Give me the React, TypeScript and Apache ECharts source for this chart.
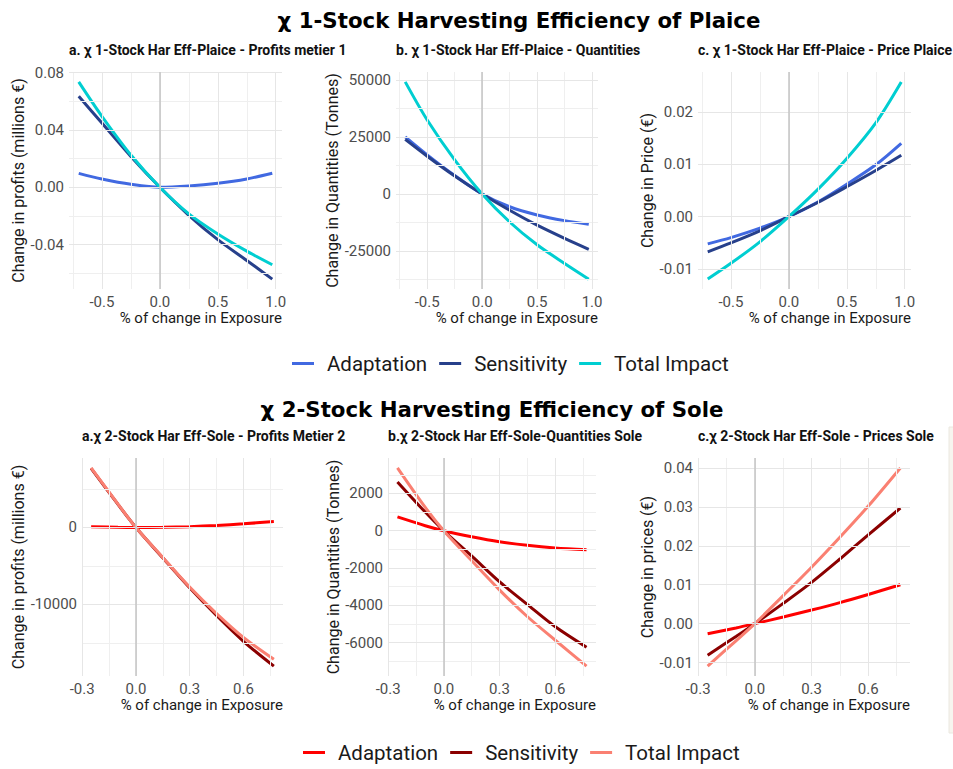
import React, { useEffect, useRef } from "react";
import * as echarts from "echarts";

// Exposure change (x) sampled for each scenario
const PLAICE_X = [-0.7, -0.5, -0.25, 0, 0.25, 0.5, 0.75, 0.97];
const SOLE_X = [-0.25, -0.1, 0, 0.15, 0.3, 0.45, 0.6, 0.77];

const SERIES_NAMES = ["Adaptation", "Sensitivity", "Total Impact"];
const PLAICE_COLORS = ["#4169E1", "#27408B", "#00CED1"];
const SOLE_COLORS = ["#FF0000", "#8B0000", "#FA8072"];

// χ 1 – Plaice: profits metier 1 (millions €)
const plaiceProfitAdaptation = [0.0097, 0.0058, 0.0021, 0, 0.0009, 0.0028, 0.0058, 0.0098];
const plaiceProfitSensitivity = [0.0635, 0.0448, 0.0215, 0, -0.0195, -0.0365, -0.051, -0.064];
const plaiceProfitTotal = [0.0735, 0.0495, 0.0225, 0, -0.0185, -0.0325, -0.0445, -0.054];

// χ 1 – Plaice: quantities (tonnes)
const plaiceQtyAdaptation = [25100, 17200, 8100, 0, -5600, -9200, -11700, -13300];
const plaiceQtySensitivity = [24000, 16600, 7900, 0, -7150, -13700, -19500, -24300];
const plaiceQtyTotal = [49250, 32500, 15000, 0, -12300, -22300, -30500, -37400];

// χ 1 – Plaice: price (€)
const plaicePriceAdaptation = [-0.0052, -0.004, -0.0022, 0, 0.0028, 0.0062, 0.0099, 0.014];
const plaicePriceSensitivity = [-0.0067, -0.005, -0.0027, 0, 0.0027, 0.0057, 0.0088, 0.0117];
const plaicePriceTotal = [-0.0119, -0.0089, -0.0048, 0, 0.0052, 0.0111, 0.0179, 0.0257];

// χ 2 – Sole: profits metier 2
const soleProfitAdaptation = [100, 20, 0, 20, 110, 270, 480, 780];
const soleProfitSensitivity = [7700, 3000, 0, -3950, -7850, -11450, -14800, -18030];
const soleProfitTotal = [7750, 3050, 0, -3900, -7750, -11200, -14300, -17150];

// χ 2 – Sole: quantities (tonnes)
const soleQtyAdaptation = [740, 270, 0, -320, -590, -780, -920, -1020];
const soleQtySensitivity = [2620, 1000, 0, -1350, -2730, -3950, -5140, -6250];
const soleQtyTotal = [3370, 1250, 0, -1600, -3170, -4600, -5860, -7260];

// χ 2 – Sole: prices (€)
const solePriceAdaptation = [-0.0026, -0.0011, 0, 0.0017, 0.0035, 0.0054, 0.0075, 0.01];
const solePriceSensitivity = [-0.0081, -0.0033, 0, 0.0052, 0.0106, 0.0166, 0.0228, 0.0297];
const solePriceTotal = [-0.0109, -0.0044, 0, 0.0072, 0.0145, 0.0222, 0.0302, 0.04];

// Axis ticks
const PLAICE_X_MAJOR = [-0.5, 0, 0.5, 1.0];
const PLAICE_X_MINOR = [-0.75, -0.25, 0.25, 0.75];
const SOLE_X_MAJOR = [-0.3, 0, 0.3, 0.6];
const SOLE_X_MINOR = [-0.15, 0.15, 0.45, 0.75];

const Y_MAJOR_A1 = [-0.04, 0, 0.04, 0.08];
const Y_MINOR_A1 = [-0.06, -0.02, 0.02, 0.06];
const Y_MAJOR_B1 = [-25000, 0, 25000, 50000];
const Y_MINOR_B1 = [-37500, -12500, 12500, 37500];
const Y_MAJOR_C1 = [-0.01, 0, 0.01, 0.02];
const Y_MINOR_C1 = [-0.005, 0.005, 0.015, 0.025];
const Y_MAJOR_A2 = [-10000, 0];
const Y_MINOR_A2 = [-15000, -5000, 5000];
const Y_MAJOR_B2 = [-6000, -4000, -2000, 0, 2000];
const Y_MINOR_B2 = [-7000, -5000, -3000, -1000, 1000, 3000];
const Y_MAJOR_C2 = [-0.01, 0, 0.01, 0.02, 0.03, 0.04];
const Y_MINOR_C2 = [-0.005, 0.005, 0.015, 0.025, 0.035];

const X_NAME = "% of change in Exposure";

const FONT = "Roboto, 'Noto Sans', sans-serif";
const TITLE_FONT = "'DejaVu Sans', sans-serif";

const fmt = (d: number) => (v: number) => v.toFixed(d);

type Panel = {
  title: string;
  yName: string;
  nameGap: number;
  grid: { left: number; top: number; width: number; height: number };
  xRange: [number, number];
  yRange: [number, number];
  xMajor: number[];
  xMinor: number[];
  yMajor: number[];
  yMinor: number[];
  yFmt: (v: number) => string;
  xs: number[];
  values: number[][];
  colors: string[];
};

const TOP_Y = 72;
const TOP_H = 217;
const BOT_Y = 458;
const BOT_H = 218;

const panels: Panel[] = [
  {
    title: "a. χ 1-Stock Har Eff-Plaice - Profits metier 1",
    yName: "Change in profits (millions €)",
    nameGap: 39,
    grid: { left: 69, top: TOP_Y, width: 213, height: TOP_H },
    xRange: [-0.784, 1.054],
    yRange: [-0.0709, 0.0804],
    xMajor: PLAICE_X_MAJOR,
    xMinor: PLAICE_X_MINOR,
    yMajor: Y_MAJOR_A1,
    yMinor: Y_MINOR_A1,
    yFmt: fmt(2),
    xs: PLAICE_X,
    values: [plaiceProfitAdaptation, plaiceProfitSensitivity, plaiceProfitTotal],
    colors: PLAICE_COLORS,
  },
  {
    title: "b. χ 1-Stock Har Eff-Plaice - Quantities",
    yName: "Change in Quantities (Tonnes)",
    nameGap: 51,
    grid: { left: 396, top: TOP_Y, width: 202, height: TOP_H },
    xRange: [-0.784, 1.054],
    yRange: [-41730, 53580],
    xMajor: PLAICE_X_MAJOR,
    xMinor: PLAICE_X_MINOR,
    yMajor: Y_MAJOR_B1,
    yMinor: Y_MINOR_B1,
    yFmt: fmt(0),
    xs: PLAICE_X,
    values: [plaiceQtyAdaptation, plaiceQtySensitivity, plaiceQtyTotal],
    colors: PLAICE_COLORS,
  },
  {
    title: "c. χ 1-Stock Har Eff-Plaice - Price Plaice",
    yName: "Change in Price (€)",
    nameGap: 41,
    grid: { left: 698, top: TOP_Y, width: 213, height: TOP_H },
    xRange: [-0.784, 1.054],
    yRange: [-0.0138, 0.0276],
    xMajor: PLAICE_X_MAJOR,
    xMinor: PLAICE_X_MINOR,
    yMajor: Y_MAJOR_C1,
    yMinor: Y_MINOR_C1,
    yFmt: fmt(2),
    xs: PLAICE_X,
    values: [plaicePriceAdaptation, plaicePriceSensitivity, plaicePriceTotal],
    colors: PLAICE_COLORS,
  },
  {
    title: "a.χ 2-Stock Har Eff-Sole - Profits Metier 2",
    yName: "Change in profits (millions €)",
    nameGap: 52,
    grid: { left: 82, top: BOT_Y, width: 201, height: BOT_H },
    xRange: [-0.301, 0.821],
    yRange: [-19319, 9039],
    xMajor: SOLE_X_MAJOR,
    xMinor: SOLE_X_MINOR,
    yMajor: Y_MAJOR_A2,
    yMinor: Y_MINOR_A2,
    yFmt: fmt(0),
    xs: SOLE_X,
    values: [soleProfitAdaptation, soleProfitSensitivity, soleProfitTotal],
    colors: SOLE_COLORS,
  },
  {
    title: "b.χ 2-Stock Har Eff-Sole-Quantities Sole",
    yName: "Change in Quantities (Tonnes)",
    nameGap: 44,
    grid: { left: 388, top: BOT_Y, width: 208, height: BOT_H },
    xRange: [-0.301, 0.821],
    yRange: [-7791, 3901],
    xMajor: SOLE_X_MAJOR,
    xMinor: SOLE_X_MINOR,
    yMajor: Y_MAJOR_B2,
    yMinor: Y_MINOR_B2,
    yFmt: fmt(0),
    xs: SOLE_X,
    values: [soleQtyAdaptation, soleQtySensitivity, soleQtyTotal],
    colors: SOLE_COLORS,
  },
  {
    title: "c.χ 2-Stock Har Eff-Sole - Prices Sole",
    yName: "Change in prices (€)",
    nameGap: 41,
    grid: { left: 698, top: BOT_Y, width: 212, height: BOT_H },
    xRange: [-0.301, 0.821],
    yRange: [-0.01345, 0.04255],
    xMajor: SOLE_X_MAJOR,
    xMinor: SOLE_X_MINOR,
    yMajor: Y_MAJOR_C2,
    yMinor: Y_MINOR_C2,
    yFmt: fmt(2),
    xs: SOLE_X,
    values: [solePriceAdaptation, solePriceSensitivity, solePriceTotal],
    colors: SOLE_COLORS,
  },
];

const MAJOR_GRID = "#e6e6e6";
const MINOR_GRID = "#efefef";
const ZERO_LINE = "#c4c4c4";

function buildOption() {
  const grid = panels.map((p) => ({ ...p.grid, containLabel: false, outerBoundsMode: "none" }));

  const xAxis = panels.map((p, i) => ({
    type: "value",
    gridIndex: i,
    min: p.xRange[0],
    max: p.xRange[1],
    axisLine: { show: false, onZero: false },
    axisTick: { show: false },
    splitLine: { show: false },
    axisLabel: {
      customValues: p.xMajor,
      formatter: fmt(1),
      color: "#4d4d4d",
      fontSize: 15,
      fontFamily: FONT,
      margin: 5,
    },
  }));

  const yAxis = panels.map((p, i) => ({
    type: "value",
    gridIndex: i,
    min: p.yRange[0],
    max: p.yRange[1],
    axisLine: { show: false, onZero: false },
    axisTick: { show: false },
    splitLine: { show: false },
    axisLabel: {
      customValues: p.yMajor,
      formatter: p.yFmt,
      color: "#4d4d4d",
      fontSize: 15,
      fontFamily: FONT,
      margin: 5,
    },
    name: p.yName,
    nameLocation: "middle",
    nameGap: p.nameGap,
    nameTextStyle: { color: "#1a1a1a", fontSize: 16, fontFamily: FONT },
  }));

  const series: any[] = [];
  panels.forEach((p, i) => {
    // panel background grid (major / minor) and the zero reference line
    series.push({
      type: "line",
      xAxisIndex: i,
      yAxisIndex: i,
      data: [],
      silent: true,
      z: 1,
      markLine: {
        silent: true,
        symbol: ["none", "none"],
        label: { show: false },
        emphasis: { disabled: true },
        animation: false,
        data: [
          ...p.xMinor.map((v) => ({ xAxis: v, lineStyle: { color: MINOR_GRID, width: 1, type: "solid" } })),
          ...p.yMinor.map((v) => ({ yAxis: v, lineStyle: { color: MINOR_GRID, width: 1, type: "solid" } })),
          ...p.xMajor.map((v) => ({ xAxis: v, lineStyle: { color: MAJOR_GRID, width: 1, type: "solid" } })),
          ...p.yMajor.map((v) => ({ yAxis: v, lineStyle: { color: MAJOR_GRID, width: 1, type: "solid" } })),
          { xAxis: 0, lineStyle: { color: ZERO_LINE, width: 1.5, type: "solid" } },
        ],
      },
    });
    p.values.forEach((vals, k) => {
      series.push({
        name: SERIES_NAMES[k],
        type: "line",
        xAxisIndex: i,
        yAxisIndex: i,
        data: p.xs.map((x, j) => [x, vals[j]]),
        smooth: 0.3,
        showSymbol: false,
        symbol: "none",
        z: 3,
        color: p.colors[k],
        lineStyle: { width: 3, color: p.colors[k] },
      });
    });
  });

  const title = panels.map((p) => ({
    text: p.title,
    left: p.grid.left,
    top: p.grid.top > 300 ? 429 : 43,
    padding: 0,
    textStyle: { fontFamily: FONT, fontWeight: "bold", fontSize: 14, color: "#111" },
  }));

  const legendCommon = {
    orient: "horizontal",
    icon: "rect",
    itemWidth: 22,
    itemHeight: 3,
    itemGap: 12,
    padding: 0,
    selectedMode: false,
    textStyle: { fontFamily: FONT, fontSize: 20.5, color: "#1a1a1a", padding: [0, 0, 0, 8] },
  };
  const legend = [
    {
      ...legendCommon,
      left: 292,
      top: 353,
      data: SERIES_NAMES.map((n, k) => ({ name: n, itemStyle: { color: PLAICE_COLORS[k] } })),
    },
    {
      ...legendCommon,
      left: 303,
      top: 742,
      data: SERIES_NAMES.map((n, k) => ({ name: n, itemStyle: { color: SOLE_COLORS[k] } })),
    },
  ];

  // x-axis titles, right-aligned under each panel
  const xTitles = panels.map((p) => ({
    type: "text",
    x: p.grid.left + p.grid.width,
    y: p.grid.top + p.grid.height + 29,
    silent: true,
    style: {
      text: X_NAME,
      align: "right",
      verticalAlign: "middle",
      font: `15px ${FONT}`,
      fill: "#1a1a1a",
    },
  }));

  const graphic = [
    {
      type: "text",
      x: 519,
      y: 20,
      style: {
        text: "χ 1-Stock Harvesting Efficiency of Plaice",
        align: "center",
        verticalAlign: "middle",
        font: `bold 21.3px ${TITLE_FONT}`,
        fill: "#000",
      },
    },
    {
      type: "text",
      x: 492,
      y: 409,
      style: {
        text: "χ 2-Stock Harvesting Efficiency of Sole",
        align: "center",
        verticalAlign: "middle",
        font: `bold 21.3px ${TITLE_FONT}`,
        fill: "#000",
      },
    },
    ...xTitles,
    {
      type: "rect",
      shape: { x: 949, y: 427, width: 6, height: 306 },
      style: { fill: "#f7f5ef", stroke: "#ebe8e0", lineWidth: 1 },
      silent: true,
    },
  ];

  return {
    animation: false,
    backgroundColor: "#ffffff",
    title,
    legend,
    grid,
    xAxis,
    yAxis,
    series,
    graphic,
  };
}

export default function App() {
  const ref = useRef<HTMLDivElement>(null);
  useEffect(() => {
    if (!ref.current) return;
    const chart = echarts.init(ref.current, undefined, { renderer: "svg" });
    chart.setOption(buildOption() as any);
    return () => chart.dispose();
  }, []);
  return <div ref={ref} style={{ width: 953, height: 769, position: "absolute", left: 0, top: 0 }} />;
}
